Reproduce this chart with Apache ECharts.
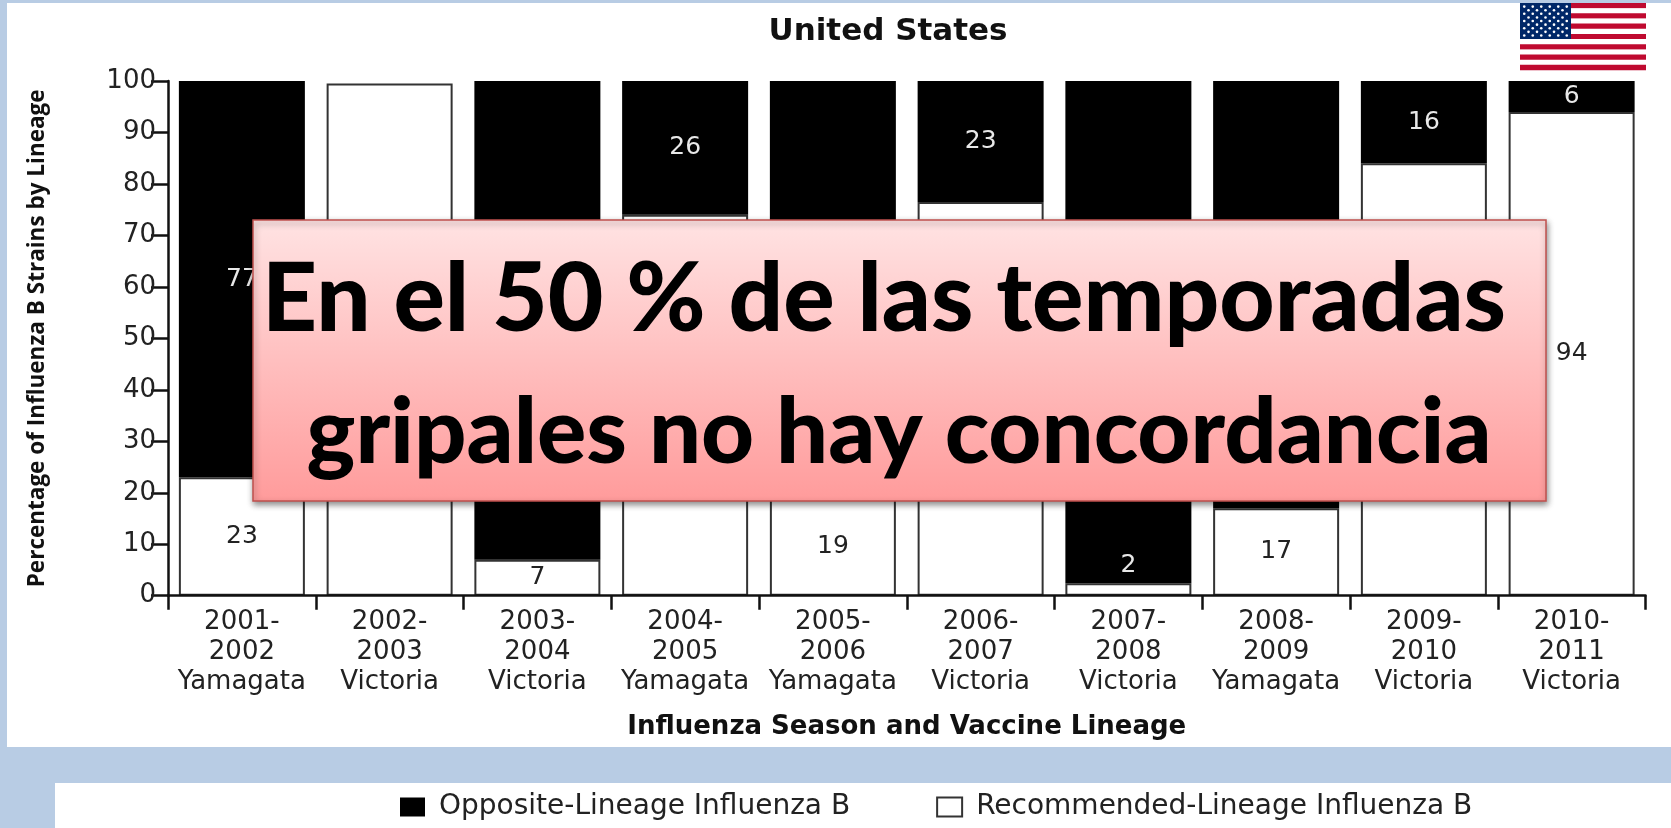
<!DOCTYPE html>
<html><head><meta charset="utf-8">
<style>html,body{margin:0;padding:0;background:#b8cce4}#c{width:1671px;height:828px}</style>
<script src="https://cdn.jsdelivr.net/npm/echarts@6/dist/echarts.min.js"></script>
</head><body><div id="c"></div>
<script>
const seasons = ['2001-\n2002\nYamagata','2002-\n2003\nVictoria','2003-\n2004\nVictoria','2004-\n2005\nYamagata','2005-\n2006\nYamagata','2006-\n2007\nVictoria','2007-\n2008\nVictoria','2008-\n2009\nYamagata','2009-\n2010\nVictoria','2010-\n2011\nVictoria'];
const recommended = [23, 99.5, 7, 74, 19, 76.5, 2.4, 17, 84, 94];
const opposite = [77, 0, 93, 26, 81, 23.5, 97.6, 83, 16, 6];
const recommendedLabels = ['23','','7','','19','','2','17','','94'];
const oppositeLabels = ['77','','','26','','23','','','16','6'];
const calloutLines = ['En el 50 % de las temporadas','gripales no hay concordancia'];

const FONT = '"DejaVu Sans"';
const BLUE = '#b8cce4';
const g = [];
g.push({type:'rect',z:-10,shape:{x:7,y:3,width:1664,height:744},style:{fill:'#fff'}});
g.push({type:'rect',z:-10,shape:{x:55,y:783,width:1616,height:45},style:{fill:'#fff'}});
// flag
const fx=1520,fy=3,fw=126,fh=67,sh=fh/13;
for(let i=0;i<13;i++) g.push({type:'rect',z:-5,shape:{x:fx,y:fy+i*sh,width:fw,height:sh+0.3},style:{fill:i%2?'#fff':'#bf0a30'}});
const cw=51,ch=sh*7;
g.push({type:'rect',z:-4,shape:{x:fx,y:fy,width:cw,height:ch},style:{fill:'#002868'}});
for(let r=0;r<9;r++){const n=r%2?5:6;for(let c=0;c<n;c++){
  g.push({type:'circle',z:-3,shape:{cx:fx+cw*(c*2+(r%2?2:1))/12,cy:fy+ch*(r+1)/10,r:1.3},style:{fill:'#fff'}});
}}
// callout
g.push({type:'rect',z:100,shape:{x:253,y:220,width:1293,height:281},
  style:{fill:{type:'linear',x:0,y:0,x2:0,y2:1,colorStops:[{offset:0,color:'#ffe3e3'},{offset:1,color:'#ff9b9b'}]},
  stroke:'#c0504d',lineWidth:1.5,shadowBlur:6,shadowColor:'rgba(0,0,0,0.45)',shadowOffsetX:1,shadowOffsetY:3}});
g.push({type:'text',z:101,style:{text:calloutLines[0],x:884,y:252,align:'center',font:'900 96px Lato',fill:'#000'}});
g.push({type:'text',z:101,style:{text:calloutLines[1],x:899,y:387,align:'center',font:'900 92px Lato',fill:'#000'}});

const option = {
  animation:false,
  backgroundColor:BLUE,
  textStyle:{fontFamily:FONT},
  title:{text:'United States',left:883,top:11,textAlign:'center',textStyle:{fontFamily:FONT,fontSize:31,fontWeight:'bold',color:'#111'}},
  grid:{left:168,right:25.5,top:81,bottom:232.3},
  legend:{left:395,top:788,itemWidth:25,itemHeight:19,itemGap:86,icon:'rect',
    data:['Opposite-Lineage Influenza B','Recommended-Lineage Influenza B'],
    textStyle:{fontFamily:FONT,fontSize:28,color:'#222',padding:[0,0,0,9]}},
  xAxis:{type:'category',data:seasons,z:3,
    name:'Influenza Season and Vaccine Lineage',nameLocation:'middle',nameGap:132,
    nameTextStyle:{fontFamily:FONT,fontWeight:'bold',fontSize:26,color:'#111',verticalAlign:'middle'},
    axisLine:{lineStyle:{color:'#111',width:2.5}},
    axisTick:{show:true,alignWithLabel:false,length:14,lineStyle:{color:'#111',width:2.5}},
    axisLabel:{interval:0,hideOverlap:false,margin:12,fontFamily:FONT,fontSize:26,lineHeight:30,color:'#222'}},
  yAxis:{type:'value',min:0,max:100,interval:10,z:3,
    name:'Percentage of Influenza B Strains by Lineage',nameLocation:'middle',nameGap:130,
    nameTextStyle:{fontFamily:'"Open Sans"',fontWeight:'bold',fontSize:22.5,color:'#111',verticalAlign:'middle'},
    axisLine:{show:true,lineStyle:{color:'#111',width:2.5}},
    axisTick:{show:true,length:17,lineStyle:{color:'#111',width:2.5}},
    splitLine:{show:false},
    axisLabel:{margin:12,fontFamily:FONT,fontSize:26,color:'#222'}},
  series:[
    {name:'Recommended-Lineage Influenza B',type:'bar',stack:'a',barWidth:126,
     itemStyle:{color:'#fff',borderColor:'#333',borderWidth:2},
     data:recommended.map((v,i)=>i===6?{value:v,label:{position:'top',distance:5,color:'#e8e8e8'}}:v),
     label:{show:true,position:'inside',fontFamily:FONT,fontSize:25,color:'#222',
       formatter:p=>recommendedLabels[p.dataIndex]}},
    {name:'Opposite-Lineage Influenza B',type:'bar',stack:'a',barWidth:126,
     itemStyle:{color:'#000',borderWidth:0},
     data:opposite,
     label:{show:true,position:'inside',fontFamily:FONT,fontSize:25,color:'#e8e8e8',
       formatter:p=>oppositeLabels[p.dataIndex]}}
  ],
  graphic:{elements:g}
};
echarts.init(document.getElementById('c'),null,{renderer:'canvas'}).setOption(option);
</script></body></html>
